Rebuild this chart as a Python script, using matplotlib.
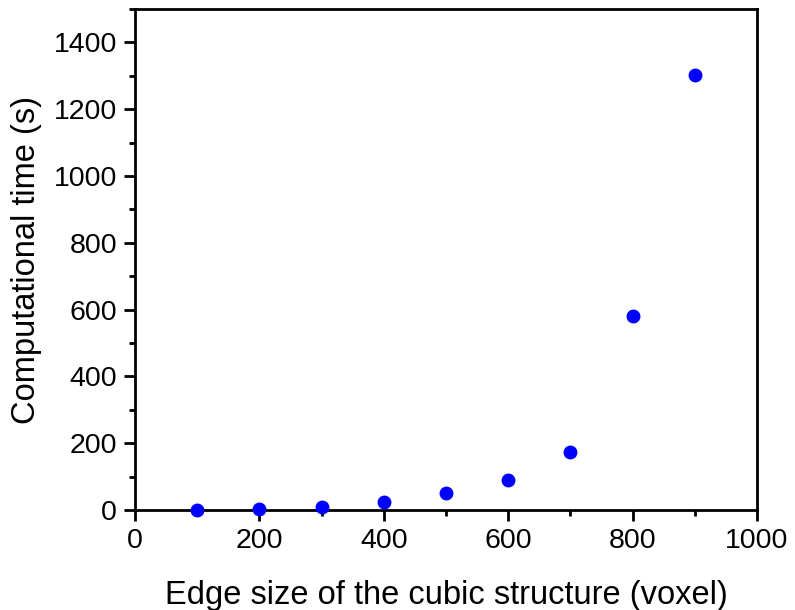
import matplotlib.pyplot as plt
from matplotlib.ticker import MultipleLocator

plt.rcParams['font.family'] = ['Liberation Sans', 'DejaVu Sans']

# data
edge = [100, 200, 300, 400, 500, 600, 700, 800, 900]
time_s = [1, 2, 10, 23, 52, 90, 174, 580, 1303]

fig = plt.figure(figsize=(7.95, 6.10), dpi=100)
ax = fig.add_axes([135 / 795, 1 - 510 / 610, 622 / 795, 501 / 610])

ax.plot(edge, time_s, 'o', color='#0000ff', markersize=9, clip_on=False, zorder=3)

ax.set_xlim(0, 1000)
ax.set_ylim(0, 1500)
ax.xaxis.set_major_locator(MultipleLocator(200))
ax.xaxis.set_minor_locator(MultipleLocator(100))
ax.yaxis.set_major_locator(MultipleLocator(200))
ax.yaxis.set_minor_locator(MultipleLocator(100))
ax.tick_params(which='major', direction='out', length=8, width=2, labelsize=20.5, pad=5)
ax.tick_params(which='minor', direction='out', length=4, width=2)
for s in ax.spines.values():
    s.set_linewidth(2)

ax.set_xlabel('Edge size of the cubic structure (voxel)', fontsize=23.5, labelpad=19)
ax.set_ylabel('Computational time (s)', fontsize=23.5, labelpad=8)

fig.savefig('out.png', dpi=100)
